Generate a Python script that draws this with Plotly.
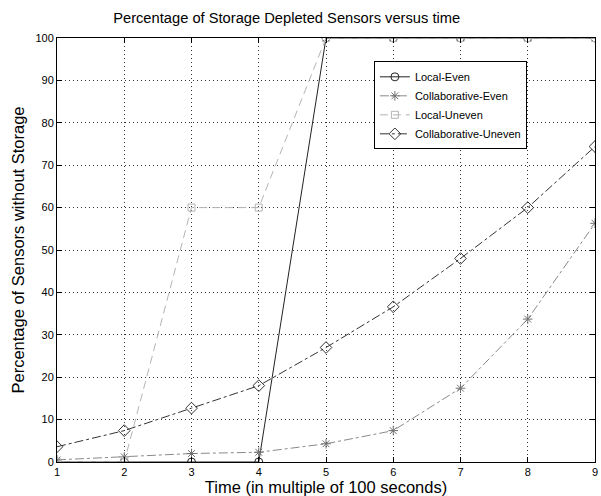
import plotly.graph_objects as go

time = [1, 2, 3, 4, 5, 6, 7, 8, 9]
local_even = [0, 0, 0, 0, 100, 100, 100, 100, 100]
collab_even = [0.5, 1.2, 2.0, 2.3, 4.3, 7.4, 17.4, 33.7, 56.3]
local_uneven = [0, 0, 60, 60, 100, 100, 100, 100, 100]
collab_uneven = [3.6, 7.4, 12.7, 18.0, 27.0, 36.6, 48.0, 60.0, 74.4]

fig = go.Figure()
fig.add_trace(go.Scatter(x=time, y=local_even, name="Local-Even", mode="lines+markers",
                         line=dict(color="#222222", width=1),
                         marker=dict(symbol="circle-open", size=8, color="#222222", line=dict(width=1))))
fig.add_trace(go.Scatter(x=time, y=collab_even, name="Collaborative-Even", mode="lines+markers",
                         line=dict(color="#8a8a8a", width=1, dash="dashdot"),
                         marker=dict(symbol="asterisk-open", size=8, color="#707070", line=dict(width=1))))
fig.add_trace(go.Scatter(x=time, y=local_uneven, name="Local-Uneven", mode="lines+markers",
                         line=dict(color="#b4b4b4", width=1, dash="8px,5px"),
                         marker=dict(symbol="square-open", size=7, color="#b4b4b4", line=dict(width=1))))
fig.add_trace(go.Scatter(x=time, y=collab_uneven, name="Collaborative-Uneven", mode="lines+markers",
                         line=dict(color="#333333", width=1, dash="dashdot"),
                         marker=dict(symbol="diamond-open", size=9, color="#333333", line=dict(width=1))))

axis_common = dict(showline=True, linecolor="black", linewidth=1, mirror="ticks",
                   ticks="inside", ticklen=5, tickcolor="black",
                   showgrid=True, gridcolor="#333333", griddash="1px,3px", gridwidth=1,
                   zeroline=False, tickfont=dict(size=11, color="black"),
                   ticklabeloverflow="allow")

fig.update_layout(
    width=601, height=496,
    margin=dict(l=57, r=3, t=38, b=34),
    paper_bgcolor="white", plot_bgcolor="white",
    font=dict(family="Liberation Sans, Arial, sans-serif", color="black"),
    title=dict(text="Percentage of Storage Depleted Sensors versus time", x=0.477, xanchor="center",
               y=0.965, yanchor="middle", font=dict(size=14.7)),
    xaxis=dict(range=[1, 9], tickvals=time, title=dict(text="Time (in multiple of 100 seconds)",
               font=dict(size=16.5), standoff=1), **axis_common),
    yaxis=dict(range=[0, 100], tickvals=list(range(0, 101, 10)),
               title=dict(text="Percentage of Sensors without Storage", font=dict(size=16.5), standoff=6),
               **axis_common),
    legend=dict(x=0.589, y=0.945, xanchor="left", yanchor="top", bgcolor="white",
                bordercolor="black", borderwidth=1, font=dict(size=11),
                tracegroupgap=0),
    showlegend=True,
)

fig.write_html("out.html", config={"displayModeBar": False},
               post_script="document.body.style.margin='0';document.body.style.padding='0';")
